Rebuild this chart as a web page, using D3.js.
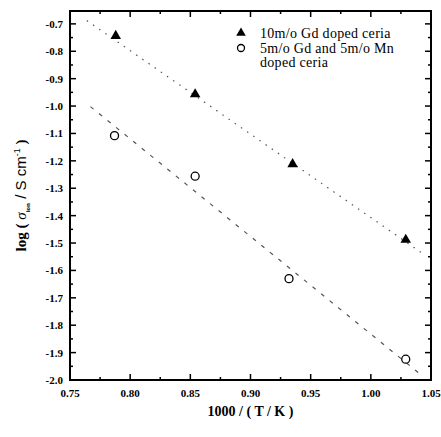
<!DOCTYPE html>
<meta charset="utf-8">
<style>
body { margin: 0; background: #fff; }
.fit { fill: none; stroke: #555; stroke-width: 1.2px; }
</style>
<body>
<script src="https://d3js.org/d3.v7.min.js"></script>
<script>

// data
var gdX = [0.788, 0.854, 0.935, 1.029];
var gdY = [-0.744, -0.957, -1.212, -1.488];
var mnX = [0.787, 0.854, 0.932, 1.029];
var mnY = [-1.108, -1.256, -1.630, -1.924];

// fitted lines (end points)
var gdFitX = [0.764, 1.042];
var gdFitY = [-0.688, -1.535];
var mnFitX = [0.767, 1.042];
var mnFitY = [-1.002, -1.982];

var xTicks = [0.75, 0.80, 0.85, 0.90, 0.95, 1.00, 1.05];
var xTickLabels = ["0.75", "0.80", "0.85", "0.90", "0.95", "1.00", "1.05"];
var yTicks = [-0.7, -0.8, -0.9, -1.0, -1.1, -1.2, -1.3, -1.4, -1.5, -1.6, -1.7, -1.8, -1.9, -2.0];
var yTickLabels = ["-0.7", "-0.8", "-0.9", "-1.0", "-1.1", "-1.2", "-1.3", "-1.4", "-1.5", "-1.6", "-1.7", "-1.8", "-1.9", "-2.0"];
var legendLabels = ["10m/o Gd doped ceria", "5m/o Gd and 5m/o Mn", "doped ceria"];

var serif = "'Liberation Serif', 'DejaVu Serif', serif";
var sans = "'Liberation Sans', Arial, sans-serif";

// set the dimensions and margins of the graph
var margin = {top: 11, right: 10, bottom: 57, left: 70},
    width = 441 - margin.left - margin.right,
    height = 437 - margin.top - margin.bottom;

var x = d3.scaleLinear().domain([0.75, 1.05]).range([0, width]);
var y = d3.scaleLinear().domain([-2.0, -0.653]).range([height, 0]);

var svg = d3.select("body").append("svg")
    .attr("width", 441)
    .attr("height", 437)
    .style("font-family", serif)
  .append("g")
    .attr("transform", "translate(" + margin.left + "," + margin.top + ")");

// minor ticks
var xMinor = d3.range(0.775, 1.05, 0.05);
var yMinor = d3.range(-1.95, -0.65, 0.1);

function ticksX(g, vals, len, ypos, dir) {
  g.selectAll(null).data(vals).enter().append("line")
    .attr("x1", d => x(d)).attr("x2", d => x(d))
    .attr("y1", ypos).attr("y2", ypos + dir * len)
    .attr("stroke", "#000").attr("stroke-width", 1.5);
}
function ticksY(g, vals, len, xpos, dir) {
  g.selectAll(null).data(vals).enter().append("line")
    .attr("y1", d => y(d)).attr("y2", d => y(d))
    .attr("x1", xpos).attr("x2", xpos + dir * len)
    .attr("stroke", "#000").attr("stroke-width", 1.5);
}

var tk = svg.append("g");
ticksX(tk, xTicks, 6, height, -1);
ticksX(tk, xMinor, 3, height, -1);
ticksX(tk, xTicks, 6, 0, 1);
ticksX(tk, xMinor, 3, 0, 1);
ticksY(tk, yTicks, 6, 0, 1);
ticksY(tk, yMinor, 3, 0, 1);
ticksY(tk, yTicks, 6, width, -1);
ticksY(tk, yMinor, 3, width, -1);

// frame
svg.append("rect")
    .attr("width", width).attr("height", height)
    .attr("fill", "none").attr("stroke", "#000").attr("stroke-width", 2);

// tick labels
svg.selectAll(".xl").data(xTicks).enter().append("text")
    .attr("x", d => x(d)).attr("y", height + 17)
    .attr("text-anchor", "middle")
    .style("font-family", serif).style("font-size", "11px").style("font-weight", "bold")
    .text((d, i) => xTickLabels[i]);

svg.selectAll(".yl").data(yTicks).enter().append("text")
    .attr("x", -7).attr("y", d => y(d) + 4)
    .attr("text-anchor", "end")
    .style("font-family", serif).style("font-size", "11px").style("font-weight", "bold")
    .text((d, i) => yTickLabels[i]);

// fit lines
var line = d3.line().x(d => x(d[0])).y(d => y(d[1]));
svg.append("path").attr("class", "fit")
    .attr("stroke-dasharray", "1.5,6")
    .attr("d", line(d3.zip(gdFitX, gdFitY)));
svg.append("path").attr("class", "fit")
    .attr("stroke-dasharray", "4,7")
    .attr("d", line(d3.zip(mnFitX, mnFitY)));

// points
var tri = d3.symbol().type(d3.symbolTriangle).size(48);
svg.selectAll(".gd").data(d3.zip(gdX, gdY)).enter().append("path")
    .attr("d", tri)
    .attr("transform", d => "translate(" + x(d[0]) + "," + y(d[1]) + ")")
    .attr("fill", "#000");

svg.selectAll(".mn").data(d3.zip(mnX, mnY)).enter().append("circle")
    .attr("cx", d => x(d[0])).attr("cy", d => y(d[1]))
    .attr("r", 4).attr("fill", "#fff")
    .attr("stroke", "#000").attr("stroke-width", 1.3);

// legend
var lg = svg.append("g").attr("transform", "translate(171,22)");
lg.append("path").attr("d", d3.symbol().type(d3.symbolTriangle).size(40))
    .attr("fill", "#000");
lg.append("circle").attr("cx", 0).attr("cy", 15).attr("r", 3.5)
    .attr("fill", "#fff").attr("stroke", "#000").attr("stroke-width", 1.3);
lg.selectAll("text").data(legendLabels).enter().append("text")
    .attr("x", 19).attr("y", (d, i) => i * 14.5 + 5)
    .style("font-family", serif).style("font-size", "14px")
    .style("letter-spacing", "0.3px")
    .text(d => d);

// axis titles
svg.append("text")
    .attr("x", x(0.9)).attr("y", height + 36)
    .attr("text-anchor", "middle")
    .style("font-family", serif).style("font-size", "14px").style("font-weight", "bold")
    .text("1000 / ( T / K )");

var yt = svg.append("text")
    .attr("transform", "translate(-44," + (height / 2) + ") rotate(-90)")
    .attr("text-anchor", "middle")
    .style("font-family", serif).style("font-size", "15px").style("font-weight", "bold");
yt.append("tspan").text("log ( ");
yt.append("tspan").style("font-style", "italic").style("font-weight", "normal").text("σ");
yt.append("tspan").attr("dy", 4).style("font-size", "7px").text("ion");
yt.append("tspan").attr("dy", -4).style("font-family", sans).style("font-weight", "normal").text(" / S cm");
yt.append("tspan").attr("dy", -6).style("font-size", "9px").style("font-family", sans).style("font-weight", "normal").text("-1");
yt.append("tspan").attr("dy", 6).text(" )");

</script>
</body>
